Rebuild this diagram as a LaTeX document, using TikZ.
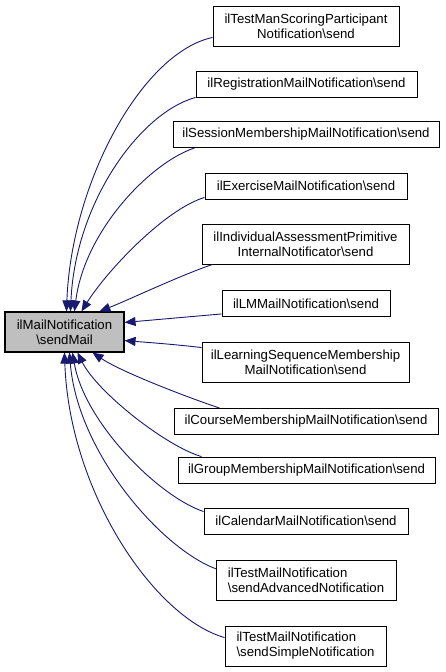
\documentclass[tikz,border=0pt]{standalone}
\usepackage{fontspec}
\setmainfont{Liberation Sans}
\usetikzlibrary{arrows.meta,calc}
\definecolor{edgecol}{HTML}{191970}
\definecolor{maingray}{HTML}{BFBFBF}
\begin{document}
\begin{tikzpicture}[x=1pt,y=-1pt,
  box/.style={draw=black,line width=0.9pt,fill=white,inner sep=2pt,align=center,
    font=\fontsize{13.2}{15}\selectfont,minimum height=26pt},
  dbox/.style={box,minimum height=40pt},
  mainbox/.style={box,fill=maingray,minimum height=40pt,line width=1.1pt},
  edge/.style={draw=edgecol,line width=0.9pt,-{Triangle[length=11pt,width=9pt]}}]
\useasboundingbox (0,0) rectangle (445,672);
\node[mainbox,minimum width=119pt] (main) at (64.5,332) {ilMailNotification\\\textbackslash sendMail};
\node[dbox,minimum width=186pt] (b1) at (306,26) {ilTestManScoringParticipant\\Notification\textbackslash send};
\node[box,minimum width=221pt] (b2) at (306.5,84) {ilRegistrationMailNotification\textbackslash send};
\node[box,minimum width=266pt] (b3) at (306,134.5) {ilSessionMembershipMailNotification\textbackslash send};
\node[box,minimum width=202pt] (b4) at (306,186) {ilExerciseMailNotification\textbackslash send};
\node[dbox,minimum width=207pt] (b5) at (305.5,244) {ilIndividualAssessmentPrimitive\\InternalNotificator\textbackslash send};
\node[box,minimum width=168pt] (b6) at (306,303.5) {ilLMMailNotification\textbackslash send};
\node[dbox,minimum width=207pt] (b7) at (305.5,362) {ilLearningSequenceMembership\\MailNotification\textbackslash send};
\node[box,minimum width=264pt] (b8) at (306,421.5) {ilCourseMembershipMailNotification\textbackslash send};
\node[box,minimum width=257pt] (b9) at (306.5,470) {ilGroupMembershipMailNotification\textbackslash send};
\node[box,minimum width=204pt] (b10) at (306,521) {ilCalendarMailNotification\textbackslash send};
\node[dbox,minimum width=180pt,align=left] (b11) at (306,580.5) {ilTestMailNotification\\\textbackslash sendAdvancedNotification};
\node[dbox,minimum width=161pt,align=left] (b12) at (305.5,646) {ilTestMailNotification\\\textbackslash sendSimpleNotification};
% anchor points
\coordinate (s1) at ($(b1.south west)+(0,-9)$);
\coordinate (s2) at ($(b2.south west)+(0,0)$);
\coordinate (s3) at ($(b3.south west)+(22,0)$);
\coordinate (s4) at ($(b4.south west)+(0,-2)$);
\coordinate (s5) at ($(b5.south west)+(11,0)$);
\coordinate (s6) at ($(b6.south west)+(0,-3)$);
\coordinate (s7) at ($(b7.north west)+(0,6)$);
\coordinate (s8) at ($(b8.north west)+(46,0)$);
\coordinate (s9) at ($(b9.north west)+(24,0)$);
\coordinate (s10) at ($(b10.north west)+(0,4)$);
\coordinate (s11) at ($(b11.north west)+(1,9)$);
\coordinate (s12) at ($(b12.north west)+(0,12)$);
\coordinate (t1) at ($(main.north west)+(62,0)$);
\coordinate (t2) at ($(main.north west)+(66,0)$);
\coordinate (t3) at ($(main.north west)+(70,0)$);
\coordinate (t4) at ($(main.north west)+(77,0)$);
\coordinate (t5) at ($(main.north west)+(95,0)$);
\coordinate (t6) at ($(main.north east)+(0,11)$);
\coordinate (t7) at ($(main.south east)+(0,-12)$);
\coordinate (t8) at ($(main.south west)+(88,0)$);
\coordinate (t9) at ($(main.south west)+(73,0)$);
\coordinate (t10) at ($(main.south west)+(68,0)$);
\coordinate (t11) at ($(main.south west)+(65,0)$);
\coordinate (t12) at ($(main.south west)+(60,0)$);
% edges
\draw[edge] (s1) .. controls +(-70,15) and +(5,-130) .. (t1);
\draw[edge] (s2) .. controls +(-55,15) and +(5,-110) .. (t2);
\draw[edge] (s3) .. controls +(-45,15) and +(10,-80) .. (t3);
\draw[edge] (s4) .. controls +(-40,12) and +(25,-40) .. (t4);
\draw[edge] (s5) .. controls +(-30,10) and +(30,-12) .. (t5);
\draw[edge] (s6) -- (t6);
\draw[edge] (s7) .. controls +(-25,-3) and +(25,2) .. (t7);
\draw[edge] (s8) .. controls +(-30,-10) and +(30,20) .. (t8);
\draw[edge] (s9) .. controls +(-35,-10) and +(20,40) .. (t9);
\draw[edge] (s10) .. controls +(-45,-15) and +(12,70) .. (t10);
\draw[edge] (s11) .. controls +(-55,-20) and +(8,100) .. (t11);
\draw[edge] (s12) .. controls +(-70,-20) and +(5,140) .. (t12);
\end{tikzpicture}
\end{document}
